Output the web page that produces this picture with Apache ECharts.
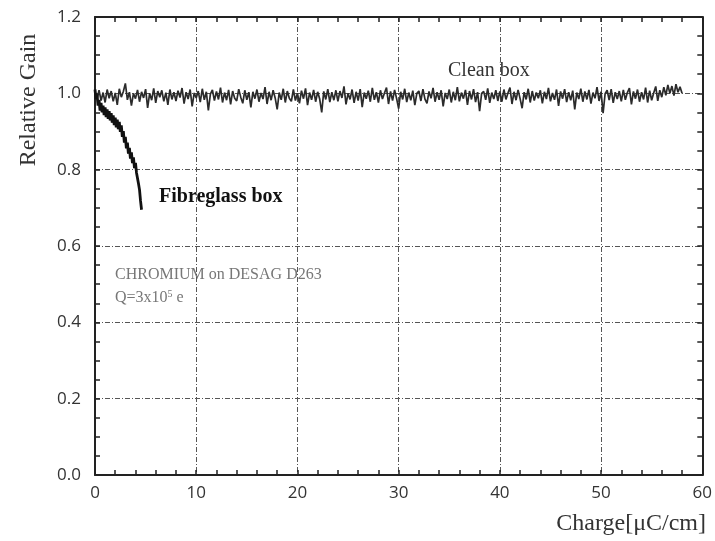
<!DOCTYPE html>
<html>
<head>
<meta charset="utf-8">
<script src="https://cdn.jsdelivr.net/npm/echarts@6/dist/echarts.min.js"></script>
<style>
  html, body { margin: 0; padding: 0; background: #fff; }
  #chart { width: 715px; height: 541px; }
</style>
</head>
<body>
<div id="chart"></div>
<script>
// Relative gain vs. accumulated charge for two chamber boxes
const chargeStep = 0.2;          // µC/cm between clean-box samples
const fibreStep = 0.1;           // µC/cm between fibreglass samples

const cleanBoxGain = [
  1.004,0.985,1.008,0.981,1.002,0.976,1.010,0.987,1.006,0.979,1.001,0.970,1.012,0.990,1.005,1.026,0.983,1.003,0.968,1.000,
  0.986,1.009,0.978,1.004,0.988,1.011,0.962,1.000,0.982,1.013,0.975,1.006,0.990,1.008,0.979,1.002,0.970,1.010,0.984,1.003,
  0.980,1.007,0.989,1.014,0.973,1.003,0.985,1.010,0.966,1.001,0.988,1.006,0.977,1.012,0.983,1.004,0.955,0.998,1.009,0.981,
  1.005,0.984,1.015,0.976,1.002,0.982,1.009,0.971,1.006,0.987,0.980,1.011,0.990,0.974,1.008,0.983,1.003,0.963,1.004,0.986,
  1.010,0.978,1.001,0.985,1.016,0.972,1.004,0.982,1.008,0.988,0.958,1.002,0.983,1.012,0.976,1.006,0.987,0.979,1.010,0.981,
  1.000,0.974,1.007,0.986,1.013,0.969,1.002,0.983,1.009,0.978,1.004,0.985,0.950,1.005,0.984,1.011,0.977,1.003,0.982,1.008,
  0.979,1.006,0.988,1.018,0.971,1.000,0.984,1.010,0.975,1.004,0.981,1.011,0.964,1.002,0.986,1.007,0.978,1.014,0.983,1.003,
  0.976,1.008,0.985,1.001,1.015,0.972,1.005,0.981,1.009,0.986,0.960,1.004,0.984,1.012,0.977,1.002,0.982,1.007,0.969,1.000,
  1.006,0.980,1.011,0.985,0.974,1.005,0.987,1.014,0.978,1.003,0.983,1.008,0.966,1.001,0.985,1.010,0.976,1.004,0.982,1.016,
  0.979,1.002,0.986,1.009,0.970,1.006,0.984,1.011,0.977,1.003,0.953,1.000,1.005,0.983,1.013,0.975,1.002,0.985,1.008,0.980,
  1.005,0.978,1.010,0.984,1.001,1.015,0.972,1.004,0.982,1.009,0.986,0.961,1.003,0.984,1.012,0.976,1.006,0.981,1.002,0.987,
  1.008,0.974,1.004,0.985,1.014,0.979,1.001,0.983,1.010,0.967,1.005,0.986,1.011,0.977,1.003,0.982,1.007,0.958,1.002,0.985,
  1.012,0.978,1.005,0.984,1.009,0.973,1.002,0.987,1.016,0.980,1.004,0.948,0.999,1.008,0.982,1.011,0.975,1.003,0.985,1.006,
  0.979,1.009,0.983,1.002,1.014,0.971,1.005,0.986,1.010,0.978,1.003,0.984,1.015,0.976,1.007,0.982,1.001,1.018,0.980,1.008,
  0.990,1.016,0.995,1.022,1.000,1.019,0.994,1.024,1.003,1.017,1.000
];

const fibreglassBoxGain = [
  1.010,0.985,0.997,0.968,0.983,0.955,0.975,0.950,0.968,0.943,
  0.963,0.938,0.958,0.933,0.953,0.929,0.948,0.923,0.942,0.917,
  0.936,0.911,0.931,0.906,0.925,0.899,0.916,0.886,0.901,0.871,
  0.886,0.856,0.871,0.842,0.857,0.829,0.845,0.817,0.832,0.804,
  0.818,0.792,0.787,0.763,0.747,0.718,0.695
];

const xTicks = [0, 10, 20, 30, 40, 50, 60];
const yTicks = [0.0, 0.2, 0.4, 0.6, 0.8, 1.0, 1.2];

const cleanData = cleanBoxGain.map((v, i) => [+(i * chargeStep).toFixed(2), v]);
const fibreData = fibreglassBoxGain.map((v, i) => [+(i * fibreStep).toFixed(2), v]);

const serif = '"Liberation Serif", "DejaVu Serif", serif';
const sans = '"Open Sans", "Liberation Sans", sans-serif';
const gridLine = { show: true, lineStyle: { color: '#555', width: 1, type: [5, 2, 1, 2] } };

function baseX(pos, labels) {
  return {
    type: 'value', position: pos, min: xTicks[0], max: xTicks[xTicks.length - 1], interval: 10,
    axisLine: { show: true, onZero: false, lineStyle: { color: '#222', width: 2 } },
    axisTick: { show: true, inside: true, length: 5, lineStyle: { color: '#222', width: 1.5 } },
    minorTick: { show: true, splitNumber: 5, length: 5, lineStyle: { color: '#222', width: 1.5 } },
    axisLabel: labels ? { show: true, color: '#333', fontFamily: sans, fontSize: 17, margin: 10 } : { show: false },
    splitLine: labels ? gridLine : { show: false }
  };
}
function baseY(pos, labels) {
  return {
    type: 'value', position: pos, min: yTicks[0], max: yTicks[yTicks.length - 1], interval: 0.2,
    axisLine: { show: true, onZero: false, lineStyle: { color: '#222', width: 2 } },
    axisTick: { show: true, inside: true, length: 5, lineStyle: { color: '#222', width: 1.5 } },
    minorTick: { show: true, splitNumber: 4, length: 5, lineStyle: { color: '#222', width: 1.5 } },
    axisLabel: labels ? { show: true, color: '#333', fontFamily: sans, fontSize: 17, margin: 14,
      formatter: v => v.toFixed(1) } : { show: false },
    splitLine: labels ? gridLine : { show: false }
  };
}

const chart = echarts.init(document.getElementById('chart'), null, { renderer: 'canvas' });
chart.setOption({
  backgroundColor: '#fff',
  animation: false,
  grid: { left: 95, right: 10, top: 17, bottom: 66 },
  xAxis: [baseX('bottom', true), baseX('top', false)],
  yAxis: [baseY('left', true), baseY('right', false)],
  series: [
    {
      name: 'Clean box', type: 'line', data: cleanData, showSymbol: false,
      lineStyle: { color: '#2b2b2b', width: 1.7 }, z: 3
    },
    {
      name: 'Fibreglass box', type: 'line', data: fibreData, showSymbol: false,
      lineStyle: { color: '#111', width: 2.8 }, z: 4
    }
  ],
  graphic: [
    { type: 'text', x: 29, y: 100, rotation: Math.PI / 2, style: { text: 'Relative Gain', font: '24px ' + serif, fill: '#333', align: 'center', verticalAlign: 'middle' } },
    { type: 'text', x: 706, y: 524, style: { text: 'Charge[μC/cm]', font: '24px ' + serif, fill: '#333', align: 'right', verticalAlign: 'middle' } },
    { type: 'text', x: 448, y: 71, style: { text: 'Clean box', font: '20px ' + serif, fill: '#333', align: 'left', verticalAlign: 'middle' } },
    { type: 'text', x: 159, y: 197, style: { text: 'Fibreglass box', font: 'bold 20px ' + serif, fill: '#111', align: 'left', verticalAlign: 'middle' } },
    { type: 'text', x: 115, y: 275, style: { text: 'CHROMIUM on DESAG D263', font: '16px ' + serif, fill: '#777', align: 'left', verticalAlign: 'middle' } },
    { type: 'text', x: 115, y: 298, style: {
      text: '{a|Q=3x10}{s|5}{a| e}', align: 'left', verticalAlign: 'middle',
      rich: { a: { fontFamily: serif, fontSize: 16, fill: '#777' }, s: { fontFamily: serif, fontSize: 10, fill: '#777', verticalAlign: 'top', padding: [0, 0, 8, 0] } }
    } }
  ]
});
</script>
</body>
</html>
